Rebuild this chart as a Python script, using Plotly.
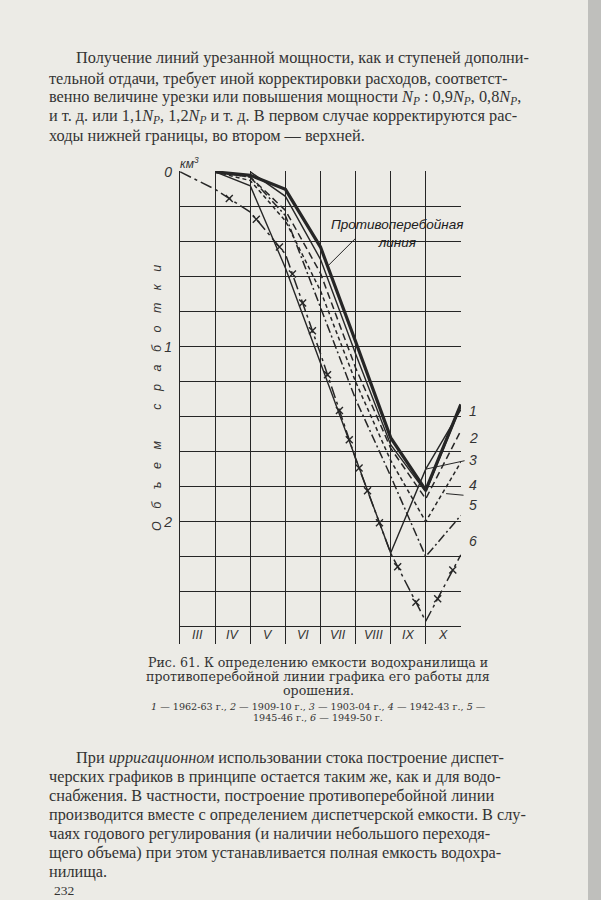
import plotly.graph_objects as go
import numpy as np

# ---------------- data ----------------
months = ["III", "IV", "V", "VI", "VII", "VIII", "IX", "X"]
bounds = [0, 1, 2, 3, 4, 5, 6, 7, 8]          # month boundaries (start of III ... end of X)
month_mid = [0.5, 1.5, 2.5, 3.5, 4.5, 5.5, 6.5, 7.5]

anti_line = [None, 0.0, 0.02, 0.10, 0.43, 0.97, 1.52, 1.82, 1.33]   # противоперебойная линия
y1962_63 = [None, None, 0.0, 0.14, 0.50, 1.04, 1.56, 1.83, 1.34]    # 1
y1909_10 = [None, 0.0, 0.03, 0.22, 0.58, 1.12, 1.58, 1.87, 1.48]    # 2
y1903_04 = [None, 0.0, 0.08, 0.55, 1.09, 1.64, 2.18, 1.70, 1.36]    # 3
y1942_43 = [None, 0.0, 0.05, 0.28, 0.68, 1.20, 1.65, 2.00, 1.66]    # 4
y1945_46 = [None, 0.0, 0.03, 0.25, 0.77, 1.30, 1.74, 2.20, 1.965]   # 5
y1949_50 = [0.0, 0.10, 0.23, 0.47, 1.04, 1.64, 2.18, 2.57, 2.19]    # 6
x_marks_1949_50 = [1.4, 2.17, 2.83, 3.2, 3.49, 3.77, 4.2, 4.54, 4.82, 5.1,
                   5.34, 5.68, 6.2, 6.72, 7.34, 7.77]

curve_labels = ["1", "2", "3", "4", "5", "6"]
curve_label_y = [1.37, 1.52, 1.65, 1.85, 1.96, 2.17]

y_ticks = [0, 0.2, 0.4, 0.6, 0.8, 1.0, 1.2, 1.4, 1.6, 1.8, 2.0, 2.2, 2.4, 2.6]
y_ticktext = ["0", "", "", "", "", "1", "", "", "", "", "2", "", "", ""]

# ---------------- styling ----------------
W, H = 601, 900
ML, MR, MT, MB = 180, 140, 171, 256
PW, PH = W - ML - MR, H - MT - MB
XR = [-0.005, 8.005]
YR = [2.7, -0.005]
PAPER = "#ecebe6"
INK = "#262626"
TXT = "#333333"
SERIF = "Liberation Serif, DejaVu Serif, serif"
WSERIF = "DejaVu Serif, serif"
SANS = "Liberation Sans, Arial, sans-serif"


def px2paper(px, py):
    return (px - ML) / PW, 1 - (py - MT) / PH


def data2paper(x, y):
    return (x - XR[0]) / (XR[1] - XR[0]), (YR[0] - y) / (YR[0] - YR[1])


fig = go.Figure()

line_specs = [
    (anti_line, dict(width=3.2, dash="solid")),
    (y1962_63, dict(width=1.4, dash="solid")),
    (y1909_10, dict(width=1.5, dash="7px,4px")),
    (y1903_04, dict(width=1.4, dash="solid")),
    (y1942_43, dict(width=1.5, dash="4px,3px")),
    (y1945_46, dict(width=1.5, dash="9px,3px,2px,3px")),
    (y1949_50, dict(width=1.5, dash="12px,4px,3px,4px")),
]
for ys, st in line_specs:
    fig.add_trace(go.Scatter(x=bounds, y=ys, mode="lines",
                             line=dict(color=INK, **st), connectgaps=False,
                             hoverinfo="skip"))

mark_y = np.interp(x_marks_1949_50, bounds, y1949_50)
fig.add_trace(go.Scatter(x=x_marks_1949_50, y=mark_y, mode="markers",
                         marker=dict(symbol="x-thin", size=7,
                                     line=dict(color=INK, width=1.4)),
                         hoverinfo="skip"))

fig.update_xaxes(range=XR, tickvals=bounds,
                 ticktext=[""] * len(bounds), showticklabels=False,
                 showgrid=True, gridcolor=INK, gridwidth=1.2, zeroline=False,
                 ticks="")
fig.update_yaxes(range=YR, tickvals=y_ticks, ticktext=y_ticktext,
                 showgrid=True, gridcolor=INK, gridwidth=1.2, zeroline=False,
                 showline=True, linecolor=INK, linewidth=1.4, ticks="",
                 tickfont=dict(family=SANS, size=14, color=TXT, style="italic"),
                 ticklabelstandoff=4)

ann = []
# month labels
for m, xm in zip(months, month_mid):
    ann.append(dict(x=xm, y=2.65, xref="x", yref="y", text=m, showarrow=False,
                    font=dict(family=SANS, size=12.5, color=TXT, style="italic")))
# curve labels (right of the frame)
for t, yl in zip(curve_labels, curve_label_y):
    xp, yp = data2paper(8.17, yl)
    ann.append(dict(x=xp, y=yp, xref="paper", yref="paper", text=t,
                    showarrow=False, xanchor="left",
                    font=dict(family=SANS, size=14, color=TXT, style="italic")))
# leaders for 3 and 4
ann.append(dict(x=7.0, y=1.70, xref="x", yref="y", ax=8.15, ay=1.65,
                axref="x", ayref="y", text="", showarrow=True, arrowhead=0,
                arrowwidth=1, arrowcolor=INK))
ann.append(dict(x=7.58, y=1.84, xref="x", yref="y", ax=8.12, ay=1.85,
                axref="x", ayref="y", text="", showarrow=True, arrowhead=0,
                arrowwidth=1, arrowcolor=INK))
# anti-interruption line label
ann.append(dict(x=6.2, y=0.355, xref="x", yref="y",
                text="Противоперебойная<br>линия", showarrow=False,
                align="center",
                font=dict(family=SANS, size=13.5, color="#202020", style="italic")))
ann.append(dict(x=4.2, y=0.54, xref="x", yref="y", ax=5.05, ay=0.37,
                axref="x", ayref="y", text="", showarrow=True, arrowhead=0,
                arrowwidth=1, arrowcolor=INK))
# km3
x0, y0 = px2paper(178, 153)
ann.append(dict(x=x0, y=y0, xref="paper", yref="paper", text="км<sup>3</sup>",
                showarrow=False,
                font=dict(family=SANS, size=12, color=TXT, style="italic")))
# y title
sp = "\u2002\u2002"
ytitle = sp.join("Объем") + "\u2003\u2003\u2002" + sp.join("сработки")
x0, y0 = px2paper(148, 398)
ann.append(dict(x=x0, y=y0, xref="paper", yref="paper", text=ytitle,
                textangle=-90, showarrow=False,
                font=dict(family=SANS, size=12.5, color=TXT, style="italic")))

NP = "<i>N<sub>P</sub></i>"
top_lines = [
    (74, 58, "Получение линий урезанной мощности, как и ступеней дополни-"),
    (47, 78, "тельной отдачи, требует иной корректировки расходов, соответст-"),
    (47, 97, "венно величине урезки или повышения мощности " + NP + " : 0,9" + NP + ", 0,8" + NP + ","),
    (47, 116, "и т. д. или 1,1" + NP + ", 1,2" + NP + " и т. д. В первом случае корректируются рас-"),
    (47, 135, "ходы нижней границы, во втором — верхней."),
]
bottom_lines = [
    (74, 757, "При <i>ирригационном</i> использовании стока построение диспет-"),
    (47, 776, "черских графиков в принципе остается таким же, как и для водо-"),
    (47, 795, "снабжения. В частности, построение противоперебойной линии"),
    (47, 814, "производится вместе с определением диспетчерской емкости. В слу-"),
    (47, 833, "чаях годового регулирования (и наличии небольшого переходя-"),
    (47, 852, "щего объема) при этом устанавливается полная емкость водохра-"),
    (47, 871, "нилища."),
]
for px, py, t in top_lines + bottom_lines:
    x0, y0 = px2paper(px, py)
    ann.append(dict(x=x0, y=y0, xref="paper", yref="paper", text=t,
                    showarrow=False, xanchor="left", yanchor="middle",
                    font=dict(family=SERIF, size=16.3, color=TXT)))

caption = [
    (662, "Рис. 61. К определению емкости водохранилища и", 12.6),
    (676, "противоперебойной линии графика его работы для", 12.6),
    (690, "орошения.", 12.6),
    (706.5, "<i>1</i> — 1962-63 г., <i>2</i> — 1909-10 г., <i>3</i> — 1903-04 г., <i>4</i> — 1942-43 г., <i>5</i> —", 9.6),
    (717, "1945-46 г., <i>6</i> — 1949-50 г.", 9.6),
]
for py, t, fs in caption:
    x0, y0 = px2paper(318, py)
    ann.append(dict(x=x0, y=y0, xref="paper", yref="paper", text=t,
                    showarrow=False, xanchor="center", yanchor="middle",
                    font=dict(family=WSERIF, size=fs, color=TXT)))

x0, y0 = px2paper(52, 890)
ann.append(dict(x=x0, y=y0, xref="paper", yref="paper", text="232",
                showarrow=False, xanchor="left", yanchor="middle",
                font=dict(family=SERIF, size=13.5, color=TXT)))

# right page-edge shadow
xa, _ = px2paper(588, 0)
xb, _ = px2paper(601, 0)
shapes = [dict(type="rect", xref="paper", yref="paper", x0=xa, x1=xb,
               y0=px2paper(0, 900)[1], y1=px2paper(0, 0)[1],
               fillcolor="rgba(110,110,110,0.35)", line=dict(width=0),
               layer="below")]

fig.update_layout(width=W, height=H, margin=dict(l=ML, r=MR, t=MT, b=MB),
                  paper_bgcolor=PAPER, plot_bgcolor=PAPER, showlegend=False,
                  annotations=ann, shapes=shapes)

fig.write_html("out.html", config={"displayModeBar": False},
               post_script="document.body.style.margin='0';")
